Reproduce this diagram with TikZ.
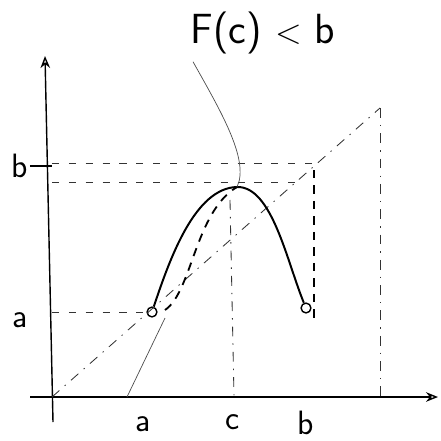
\documentclass[tikz,border=0pt]{standalone}
\usepackage{tikz}
\usetikzlibrary{positioning,arrows.meta,calc}

\begin{document}
\begin{tikzpicture}[x=0.025cm, y=-0.025cm,
  >={Stealth[length=3mm,width=2.4mm,open]},
  axis/.style  ={line width=1pt, draw=black},
  graph/.style ={line width=1.4pt, draw=black},
  prev/.style  ={line width=1.3pt, draw=black, dash pattern=on 6pt off 5pt},
  guide/.style ={line width=.6pt, draw=black!80, dash pattern=on 5pt off 7pt},
  diag/.style  ={line width=.6pt, draw=black!80, dash pattern=on 7pt off 5pt on 1pt off 5pt},
  pointer/.style={line width=.5pt, draw=black!70},
  lbl/.style   ={font=\sffamily\fontsize{24}{24}\selectfont, inner sep=1pt},
  dot/.style   ={circle, draw, line width=1pt, inner sep=0pt, minimum size=7pt}]

  \useasboundingbox (0,0) rectangle (441,441);

  % --- axes ---------------------------------------------------------------
  \coordinate (O)    at (52,397);
  \coordinate (xbeg) at (30,397);
  \coordinate (xend) at (438,397);
  \coordinate (ybeg) at (53,422);
  \coordinate (yend) at (45,56);
  \draw[axis, ->] (xbeg) -- (xend);
  \draw[axis, ->] (ybeg) -- (yend);

  % --- key points -----------------------------------------------------------
  \node[dot] (pa)  at (152,312) {};
  \node[dot] (pb)  at (306,308) {};
  \coordinate (top)   at (237,187);
  \coordinate (dtop)  at (296,182);
  \coordinate (bdiag) at (318,163);
  \coordinate (corner) at (380,108);

  % --- diagonal and guides --------------------------------------------------
  \draw[diag] (O) -- (corner);
  \draw[diag] (corner) -- (corner |- O);
  \draw[guide] (O |- bdiag) -- (bdiag);
  \draw[guide] (O |- dtop) -- (dtop);
  \draw[guide] (O |- pa) -- (pa);
  \draw[prev] (314,170) -- (314,322);
  \draw[diag] (230,200) -- (234,397);

  % --- graph ----------------------------------------------------------------
  \draw[graph] (pa) .. controls (170,258) and (195,188) .. (top)
                    .. controls (272,186) and (287,262) .. (pb);
  \draw[prev] (165,310) .. controls (192,292) and (195,212) .. (top);

  % --- labels ---------------------------------------------------------------
  \node[lbl] (ylb) at (20,166) {b};
  \node[lbl] (yla) at (20,320) {a};
  \node[lbl] (xla) at (143,424) {a};
  \node[lbl] (xlc) at (233,422) {c};
  \node[lbl] (xlb) at (306,423) {b};
  \node[lbl, font=\sffamily\fontsize{30}{30}\selectfont] (claim) at (263,33) {F(c) $<$ b};

  \draw[pointer] (claim.south west) ++(4,6) coordinate (ptr)
    .. controls (220,110) and (250,160) .. (top);
  \draw[pointer] (127,397) -- (165,318);
  \draw[axis] (ylb.east) -- (O |- ylb.east);
\end{tikzpicture}
\end{document}
